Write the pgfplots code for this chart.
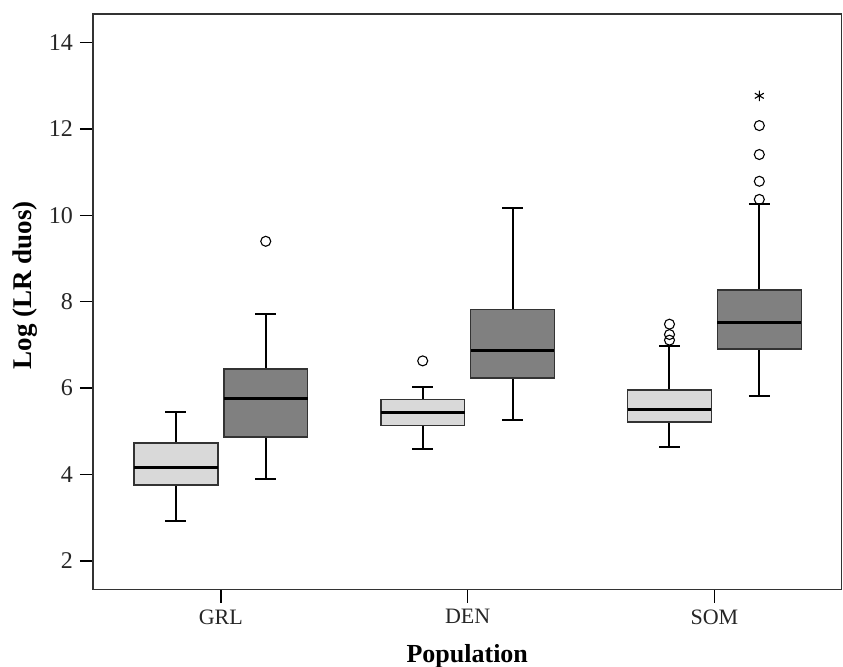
\documentclass[border=0pt]{standalone}
\usepackage{fontspec}
\setmainfont{Liberation Serif}
\usepackage{pgfplots}
\pgfplotsset{compat=1.18}
\definecolor{boxlight}{HTML}{D9D9D9}
\definecolor{boxdark}{HTML}{808080}
\definecolor{edge}{HTML}{333333}

% one box: position, lower whisker, Q1, median, Q3, upper whisker, fill
\newcommand{\onebox}[7]{%
  \pgfmathsetmacro{\xl}{#1-0.17}\pgfmathsetmacro{\xr}{#1+0.17}%
  \pgfmathsetmacro{\cl}{#1-0.0425}\pgfmathsetmacro{\cr}{#1+0.0425}%
  \addplot[black, line width=1pt] coordinates {(#1,#2) (#1,#3)};
  \addplot[black, line width=1pt] coordinates {(#1,#5) (#1,#6)};
  \addplot[black, line width=1pt] coordinates {(\cl,#2) (\cr,#2)};
  \addplot[black, line width=1pt] coordinates {(\cl,#6) (\cr,#6)};
  \addplot[draw=edge, fill=#7, line width=0.75pt] coordinates {(\xl,#3) (\xr,#3) (\xr,#5) (\xl,#5)} -- cycle;
  \addplot[black, line width=1.6pt] coordinates {(\xl,#4) (\xr,#4)};
}

\begin{document}
\begin{tikzpicture}
\path[use as bounding box] (0,0) rectangle (421.5pt,333pt);
\begin{axis}[
  at={(46.5pt,38.25pt)}, anchor=south west,
  scale only axis,
  width=374.25pt, height=287.75pt,
  xmin=0.482, xmax=3.515,
  ymin=1.334, ymax=14.665,
  xtick={1,2,3},
  xticklabels={GRL,DEN,SOM},
  ytick={2,4,6,8,10,12,14},
  xtick pos=left, ytick pos=left,
  tick align=outside,
  major tick length=6.5pt,
  tick style={black, line width=0.75pt},
  axis line style={draw=edge, line width=0.75pt},
  /pgf/number format/assume math mode=true,
  xticklabel style={font=\fontsize{11}{13}\selectfont, text=black!85},
  yticklabel style={font=\fontsize{12}{14}\selectfont, text=black!85},
  every axis x label/.style={at={(axis description cs:0.5,0)}, anchor=center, yshift=-33.25pt,
    font=\fontsize{13}{15}\selectfont\bfseries},
  every axis y label/.style={at={(axis description cs:0,0.529)}, xshift=-34pt, rotate=90, anchor=center,
    font=\fontsize{13.5}{15}\selectfont\bfseries},
  xlabel={Population},
  ylabel={Log (LR duos)},
  mark size=2.5pt,
]

% GRL
\onebox{0.818}{2.92}{3.754}{4.155}{4.73}{5.44}{boxlight}
\onebox{1.182}{3.90}{4.87}{5.75}{6.44}{7.71}{boxdark}
% DEN
\onebox{1.818}{4.60}{5.13}{5.43}{5.73}{6.02}{boxlight}
\onebox{2.182}{5.25}{6.23}{6.87}{7.82}{10.17}{boxdark}
% SOM
\onebox{2.818}{4.63}{5.21}{5.51}{5.95}{6.98}{boxlight}
\onebox{3.182}{5.82}{6.90}{7.51}{8.27}{10.26}{boxdark}

% outliers
\addplot[only marks, mark=o, mark options={draw=black, line width=0.55pt, fill=none}]
  coordinates {(1.182,9.40) (1.818,6.63)
    (2.818,7.11) (2.818,7.24) (2.818,7.48)
    (3.182,10.37) (3.182,10.79) (3.182,11.41) (3.182,12.08)};
% extreme value
\addplot[only marks, mark=asterisk, mark size=2.6pt, mark options={black, line width=0.55pt}]
  coordinates {(3.182,12.77)};
\end{axis}
\end{tikzpicture}
\end{document}
